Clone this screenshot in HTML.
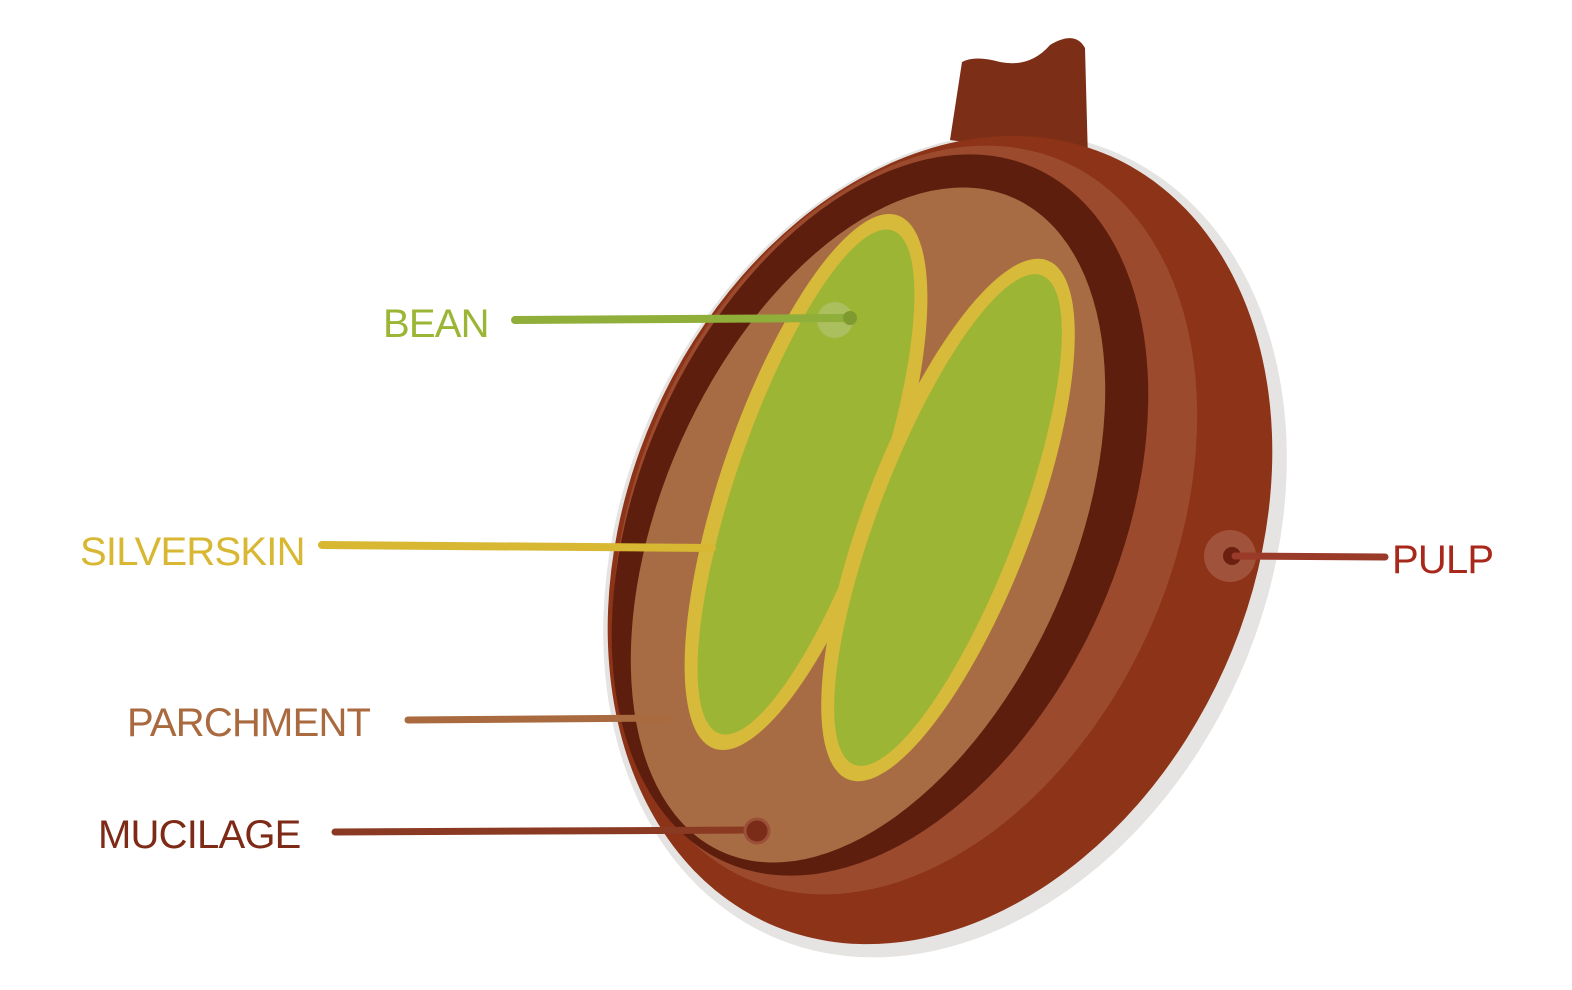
<!DOCTYPE html>
<html><head><meta charset="utf-8"><style>
html,body{margin:0;padding:0;background:#fff;width:1572px;height:990px;overflow:hidden;}
svg{display:block}
text{font-family:"Liberation Sans",sans-serif;font-size:40px;letter-spacing:-0.8px}
</style></head><body>
<svg width="1572" height="990" viewBox="0 0 1572 990" xmlns="http://www.w3.org/2000/svg">
<ellipse cx="945" cy="545" rx="322" ry="428" transform="rotate(24 945 545)" fill="#e6e4e2"/>
<path d="M950 140 L962 62 Q975 55 1000 62 Q1030 68 1050 45 Q1075 30 1085 48 L1088 160 Z" fill="#7c2f16"/>
<ellipse cx="940" cy="540" rx="312" ry="420" transform="rotate(24 940 540)" fill="#8c3318"/>
<ellipse cx="905" cy="520" rx="268" ry="392" transform="rotate(24 905 520)" fill="#9c4a2e"/>
<ellipse cx="880" cy="515" rx="240" ry="380" transform="rotate(24 880 515)" fill="#5e1e0d"/>
<ellipse cx="868" cy="525" rx="205" ry="358" transform="rotate(24 868 525)" fill="#a86c44"/>
<!-- left bean -->
<ellipse cx="806" cy="482" rx="84" ry="282" transform="rotate(19 806 482)" fill="#d8ba3a"/>
<ellipse cx="806" cy="482" rx="69" ry="266" transform="rotate(19 806 482)" fill="#9cb535"/>
<!-- right bean -->
<ellipse cx="948" cy="520" rx="84" ry="278" transform="rotate(21 948 520)" fill="#d8ba3a"/>
<ellipse cx="948" cy="520" rx="69" ry="262" transform="rotate(21 948 520)" fill="#9cb535"/>
<circle cx="835" cy="320" r="18" fill="#b8c67a" opacity="0.6"/>
<line x1="515" y1="320" x2="850" y2="318" stroke="#8fae3a" stroke-width="8" stroke-linecap="round"/>
<circle cx="850" cy="318" r="7" fill="#7f9a30"/>
<line x1="322" y1="545" x2="712" y2="548" stroke="#d8b732" stroke-width="8" stroke-linecap="round"/>
<line x1="408" y1="720" x2="670" y2="718" stroke="#a86a3e" stroke-width="7" stroke-linecap="round"/>
<line x1="335" y1="832" x2="757" y2="830" stroke="#8a3a22" stroke-width="7" stroke-linecap="round"/>
<circle cx="757" cy="831" r="12" fill="#7a2c18" stroke="#9a5038" stroke-width="3"/>
<circle cx="1230" cy="556" r="26" fill="#a1523a"/>
<circle cx="1232" cy="556" r="9" fill="#6a1f10"/>
<line x1="1235" y1="556" x2="1385" y2="557" stroke="#9a3a28" stroke-width="7" stroke-linecap="round"/>
<text x="383" y="337" fill="#9bb535">BEAN</text>
<text x="80" y="565" fill="#d8b732">SILVERSKIN</text>
<text x="127" y="736" fill="#a86a3e">PARCHMENT</text>
<text x="98" y="848" fill="#7d2a16">MUCILAGE</text>
<text x="1392" y="573" fill="#a8291b">PULP</text>
</svg>
</body></html>
